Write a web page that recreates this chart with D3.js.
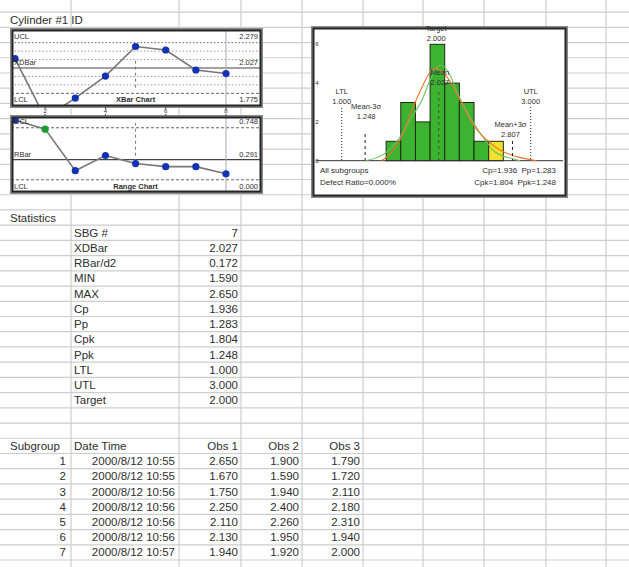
<!DOCTYPE html>
<html>
<head>
<meta charset="utf-8">
<script src="https://cdn.jsdelivr.net/npm/d3@7/dist/d3.min.js"></script>
<style>
  body { margin: 0; background: #fff; }
  svg text { font-family: "Liberation Sans", Arial, sans-serif; fill: #2e2e2e; }
</style>
</head>
<body>
<script>
// ---- data ----
const title = "Cylinder #1 ID";

// control charts (8 plotted points)
const slots = [1, 2, 3, 4, 5, 6, 7, 8];
const xbarValues = [2.120, 1.530, 1.728, 1.947, 2.241, 2.206, 2.007, 1.972];
const xbarLimits = [2.279, 2.027, 1.775];          // UCL, center, LCL
const xbarLimitNames = ["UCL", "XDBar", "LCL"];
const xbarLimitLabels = ["2.279", "2.027", "1.775"];
const rangeValues = [0.859, 0.728, 0.131, 0.349, 0.233, 0.189, 0.189, 0.087];
const rangeFlags = [0, 1, 0, 0, 0, 0, 0, 0];       // 1 = green point
const rangeLimits = [0.748, 0.291, 0.000];
const rangeLimitNames = ["UCL", "RBar", "LCL"];
const rangeLimitLabels = ["0.748", "0.291", "0.000"];
const slotTicks = [2, 4, 6, 8];

// histogram
const binEdges = [1.470, 1.625, 1.780, 1.935, 2.090, 2.245, 2.400, 2.555, 2.710];
const binCounts = [1, 3, 2, 6, 4, 3, 1, 1];
const countTicks = [0, 2, 4, 6];
const specNames = ["LTL", "UTL", "Target", "Mean", "Mean-3σ", "Mean+3σ"];
const specValues = [1.000, 3.000, 2.000, 2.027, 1.248, 2.807];
const specLabels = ["1.000", "3.000", "2.000", "2.027", "1.248", "2.807"];
const curveOverall = [[1.423, 0], [1.564, 0.65], [1.638, 1.27], [1.744, 2.61], [1.850, 3.80],
  [1.955, 4.68], [1.990, 4.78], [2.111, 4.33], [2.252, 3.13], [2.393, 1.84], [2.534, 1.07],
  [2.675, 0.55], [2.852, 0.21], [3.063, 0]];
const curveWithin = [[1.247, 0], [1.458, 0.38], [1.596, 1.07], [1.744, 2.27], [1.850, 3.13],
  [1.945, 4.26], [2.040, 4.93], [2.146, 4.42], [2.220, 3.54], [2.389, 1.99], [2.516, 1.07],
  [2.622, 0.45], [2.802, 0.11], [2.886, 0]];
const histNotesLeft = ["All subgroups", "Defect Ratio=0.000%"];
const histNotesRight = ["Cp=1.936  Pp=1.283", "Cpk=1.804  Ppk=1.248"];

// statistics block
const statNames = ["SBG #", "XDBar", "RBar/d2", "MIN", "MAX", "Cp", "Pp", "Cpk", "Ppk", "LTL", "UTL", "Target"];
const statValues = ["7", "2.027", "0.172", "1.590", "2.650", "1.936", "1.283", "1.804", "1.248", "1.000", "3.000", "2.000"];

// subgroup table
const tableHeader = ["Subgroup", "Date Time", "Obs 1", "Obs 2", "Obs 3"];
const subgroupIds = [1, 2, 3, 4, 5, 6, 7];
const dateTimes = ["2000/8/12 10:55", "2000/8/12 10:55", "2000/8/12 10:56", "2000/8/12 10:56",
  "2000/8/12 10:56", "2000/8/12 10:56", "2000/8/12 10:57"];
const obs1 = [2.650, 1.670, 1.750, 2.250, 2.110, 2.130, 1.940];
const obs2 = [1.900, 1.590, 1.940, 2.400, 2.260, 1.950, 1.920];
const obs3 = [1.790, 1.720, 2.110, 2.180, 2.310, 1.940, 2.000];

// ---- sheet ----
const W = 629, H = 567;
const svg = d3.select("body").append("svg").attr("width", W).attr("height", H);

const colEdges = [71, 179, 241, 302, 363, 423, 484, 546, 606];
const rowTop = 12.1, rowH = 15.22, nRows = 36;
const rowBase = k => rowTop + (k + 1) * rowH - 3.6;

const grid = svg.append("g").attr("stroke", "#cdcdcd").attr("stroke-width", 1.2);
grid.selectAll("line.v").data(colEdges).join("line")
  .attr("x1", d => d).attr("x2", d => d).attr("y1", 0).attr("y2", H);
grid.selectAll("line.h").data(d3.range(nRows + 1)).join("line")
  .attr("x1", 0).attr("x2", W)
  .attr("y1", k => rowTop + k * rowH).attr("y2", k => rowTop + k * rowH);

const cells = svg.append("g").attr("font-size", 11.5);
function cell(x, k, txt, anchor) {
  cells.append("text").attr("x", x).attr("y", rowBase(k))
    .attr("text-anchor", anchor || "start").text(txt);
}
cell(10, 0, title);
cell(10, 13, "Statistics");
statNames.forEach((n, i) => {
  cell(colEdges[0] + 3, 14 + i, n);
  cell(colEdges[2] - 3, 14 + i, statValues[i], "end");
});
cell(10, 28, tableHeader[0]);
cell(colEdges[0] + 3, 28, tableHeader[1]);
cell(colEdges[2] - 3, 28, tableHeader[2], "end");
cell(colEdges[3] - 3, 28, tableHeader[3], "end");
cell(colEdges[4] - 3, 28, tableHeader[4], "end");
subgroupIds.forEach((id, i) => {
  cell(colEdges[0] - 5, 29 + i, id, "end");
  cell(colEdges[1] - 4, 29 + i, dateTimes[i], "end");
  cell(colEdges[2] - 3, 29 + i, obs1[i].toFixed(3), "end");
  cell(colEdges[3] - 3, 29 + i, obs2[i].toFixed(3), "end");
  cell(colEdges[4] - 3, 29 + i, obs3[i].toFixed(3), "end");
});

// ---- chart frames ----
function frame(x0, y0, x1, y1) {
  const g = svg.append("g");
  g.append("rect").attr("x", x0).attr("y", y0).attr("width", x1 - x0).attr("height", y1 - y0)
    .attr("fill", "#fff").attr("stroke", "#8a8a8a").attr("stroke-width", 2);
  return g;
}
function frameTop(x0, y0, x1, y1) {
  svg.append("rect").attr("x", x0 + 1.5).attr("y", y0 + 1.5)
    .attr("width", x1 - x0 - 3).attr("height", y1 - y0 - 3)
    .attr("fill", "none").attr("stroke", "#262626").attr("stroke-width", 2);
}

const cx = d3.scaleLinear().domain([1, 8]).range([15, 226]);

function controlChart(box, yDomain, values, limits, names, labels, flags, caption, dashedSpan, zones) {
  const [x0, y0, x1, y1] = box;
  const g = frame(x0, y0, x1, y1);
  const y = d3.scaleLinear().domain(yDomain).range([y1, y0]);
  const id = "clip" + y0;
  svg.append("clipPath").attr("id", id).append("rect")
    .attr("x", x0 + 2).attr("y", y0 + 2).attr("width", x1 - x0 - 4).attr("height", y1 - y0 - 4);
  const p = g.append("g").attr("clip-path", `url(#${id})`);

  // sigma zones
  if (zones) {
    const s = (limits[0] - limits[1]) / 3;
    [2, 1, -1, -2].forEach(k => {
      p.append("line").attr("x1", x0).attr("x2", x1)
        .attr("y1", y(limits[1] + k * s)).attr("y2", y(limits[1] + k * s))
        .attr("stroke", "#9a9a9a").attr("stroke-dasharray", "1.5,2");
    });
  }
  // limits
  limits.forEach((v, i) => {
    p.append("line").attr("x1", x0).attr("x2", x1).attr("y1", y(v)).attr("y2", y(v))
      .attr("stroke", i === 1 ? "#444" : "#666")
      .attr("stroke-width", i === 1 ? 1.2 : 1)
      .attr("stroke-dasharray", i === 1 ? null : (zones && i === 0 ? "1.5,2" : "3,2"));
  });
  // end gridline and marker line
  p.append("line").attr("x1", cx(8)).attr("x2", cx(8)).attr("y1", y0).attr("y2", y1)
    .attr("stroke", "#aaa");
  p.append("line").attr("x1", cx(5)).attr("x2", cx(5))
    .attr("y1", y(dashedSpan[0])).attr("y2", y(dashedSpan[1]))
    .attr("stroke", "#777").attr("stroke-dasharray", "3,3");

  // labels
  const lab = g.append("g").attr("font-size", 7.5);
  const offs = [-4, -3, 9];
  names.forEach((n, i) => {
    lab.append("text").attr("x", x0 + 3).attr("y", y(limits[i]) + offs[i]).text(n);
    lab.append("text").attr("x", x1 - 4).attr("y", y(limits[i]) + offs[i])
      .attr("text-anchor", "end").text(labels[i]);
  });
  lab.append("text").attr("x", cx(5)).attr("y", y(limits[2]) + 9)
    .attr("text-anchor", "middle").attr("font-weight", "bold").attr("font-size", 7.5)
    .text(caption);

  // series
  const line = d3.line().x((d, i) => cx(slots[i])).y(d => y(d));
  p.append("path").attr("d", line(values)).attr("fill", "none")
    .attr("stroke", "#777").attr("stroke-width", 1.6);
  p.selectAll("circle").data(values).join("circle")
    .attr("cx", (d, i) => cx(slots[i])).attr("cy", d => y(d)).attr("r", 3.6)
    .attr("fill", (d, i) => flags && flags[i] ? "#1e9a32" : "#1432b4");
  frameTop(x0, y0, x1, y1);
  return y;
}

controlChart([11, 29, 262, 107], [1.639, 2.415], xbarValues, xbarLimits, xbarLimitNames,
  xbarLimitLabels, null, "XBar Chart", [2.10, 1.83], true);
controlChart([11, 116, 262, 193], [-0.19, 0.917], rangeValues, rangeLimits, rangeLimitNames,
  rangeLimitLabels, rangeFlags, "Range Chart", [0.82, 0.22], false);

// slot ticks between the two charts
const tk = svg.append("g").attr("font-size", 6);
slotTicks.forEach(s => {
  tk.append("text").attr("x", cx(s)).attr("y", 113).attr("text-anchor", "middle").text(s);
  tk.append("line").attr("x1", cx(s)).attr("x2", cx(s)).attr("y1", 107).attr("y2", 109)
    .attr("stroke", "#444");
  tk.append("line").attr("x1", cx(s)).attr("x2", cx(s)).attr("y1", 114).attr("y2", 116)
    .attr("stroke", "#444");
});

// ---- histogram ----
const hb = [312, 27, 567, 197];
const hg = frame(...hb);
const hx = d3.scaleLinear().domain([0.749, 3.331]).range([318, 562]);
const hy = d3.scaleLinear().domain([0, 6]).range([160.7, 44.3]);

const bins = binCounts.map((c, i) => ({ x0: binEdges[i], x1: binEdges[i + 1], c }));
// target line behind bars
hg.append("line").attr("x1", hx(specValues[2])).attr("x2", hx(specValues[2]))
  .attr("y1", hy(6)).attr("y2", hy(0)).attr("stroke", "#555").attr("stroke-dasharray", "3,3");
hg.selectAll("rect.bar").data(bins).join("rect").attr("class", "bar")
  .attr("x", d => hx(d.x0)).attr("width", d => hx(d.x1) - hx(d.x0))
  .attr("y", d => hy(d.c)).attr("height", d => hy(0) - hy(d.c))
  .attr("fill", (d, i) => i === bins.length - 1 ? "#f2e12a" : "#3cb432")
  .attr("stroke", "#1d2a12").attr("stroke-width", 1);

hg.append("line").attr("x1", 316).attr("x2", 563).attr("y1", hy(0)).attr("y2", hy(0))
  .attr("stroke", "#333").attr("stroke-width", 1);
hg.selectAll("text.yt").data(countTicks).join("text").attr("class", "yt")
  .attr("x", 317).attr("y", d => hy(d) + 2).attr("font-size", 6)
  .attr("text-anchor", "middle").text(d => d);

const curve = d3.line().x(d => hx(d[0])).y(d => hy(d[1])).curve(d3.curveMonotoneX);
hg.append("path").attr("d", curve(curveWithin)).attr("fill", "none")
  .attr("stroke", "#6cc25e").attr("stroke-width", 1.1);
hg.append("path").attr("d", curve(curveOverall)).attr("fill", "none")
  .attr("stroke", "#f0722c").attr("stroke-width", 1.1);

// spec / mean markers: label top (px), line start (px), dash
const specLayout = [
  { top: 91, from: 108, dash: "1,2", dx: 0 },
  { top: 91, from: 107, dash: "1,2", dx: 0 },
  { top: 28, from: 44, dash: null, dx: 0 },
  { top: 72, from: 92, dash: "3,3", dx: 1 },
  { top: 106, from: 134, dash: "3,3", dx: 1 },
  { top: 124, from: 141, dash: "3,3", dx: -2 }
];
const sl = hg.append("g").attr("font-size", 7.5);
specValues.forEach((v, i) => {
  const L = specLayout[i];
  if (L.dash) {
    sl.append("line").attr("x1", hx(v)).attr("x2", hx(v)).attr("y1", L.from).attr("y2", hy(0))
      .attr("stroke", i === 3 ? "#2d5a22" : "#222").attr("stroke-dasharray", L.dash);
  }
  sl.append("text").attr("x", hx(v) + L.dx).attr("y", L.top + 3).attr("text-anchor", "middle")
    .text(specNames[i]);
  sl.append("text").attr("x", hx(v) + L.dx).attr("y", L.top + 13).attr("text-anchor", "middle")
    .text(specLabels[i]);
});

const notes = hg.append("g").attr("font-size", 8);
histNotesLeft.forEach((t, i) => {
  notes.append("text").attr("x", 320).attr("y", 173 + i * 12).text(t);
});
histNotesRight.forEach((t, i) => {
  notes.append("text").attr("x", 556).attr("y", 173 + i * 12).attr("text-anchor", "end")
    .style("white-space", "pre").text(t);
});
frameTop(...hb);
</script>
</body>
</html>
